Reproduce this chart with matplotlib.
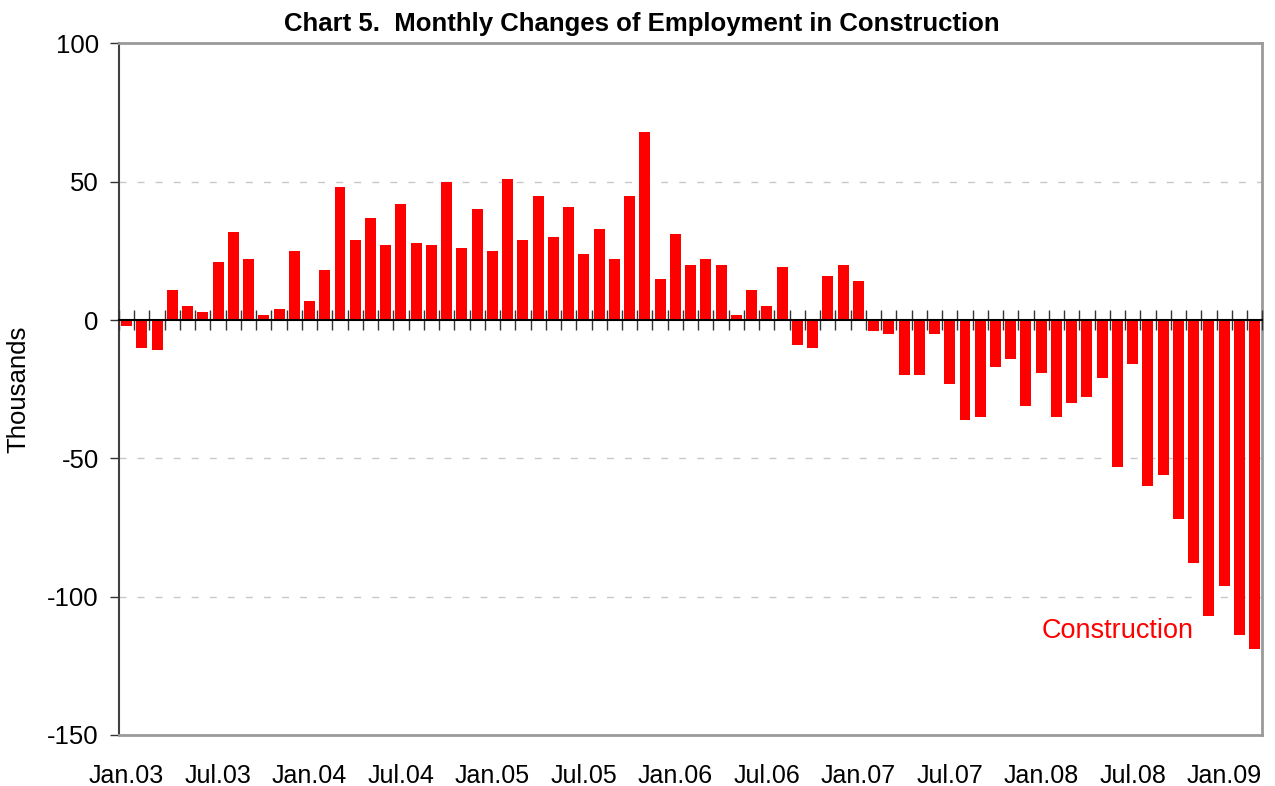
import matplotlib
matplotlib.use("Agg")
import matplotlib.pyplot as plt
import numpy as np

plt.rcParams['font.family'] = ['Liberation Sans', 'DejaVu Sans']

# monthly change in construction employment, thousands, Jan 2003 - Mar 2009
changes = [
    -2, -10, -11, 11, 5, 3, 21, 32, 22, 2, 4, 25,          # 2003
    7, 18, 48, 29, 37, 27, 42, 28, 27, 50, 26, 40,         # 2004
    25, 51, 29, 45, 30, 41, 24, 33, 22, 45, 68, 15,        # 2005
    31, 20, 22, 20, 2, 11, 5, 19, -9, -10, 16, 20,         # 2006
    14, -4, -5, -20, -20, -5, -23, -36, -35, -17, -14, -31,  # 2007
    -19, -35, -30, -28, -21, -53, -16, -60, -56, -72, -88, -107,  # 2008
    -96, -114, -119,                                        # 2009
]
tick_labels = ['Jan.03', 'Jul.03', 'Jan.04', 'Jul.04', 'Jan.05', 'Jul.05',
               'Jan.06', 'Jul.06', 'Jan.07', 'Jul.07', 'Jan.08', 'Jul.08', 'Jan.09']
series_name = 'Construction'

n = len(changes)
x = np.arange(n)

fig = plt.figure(figsize=(12.75, 7.86), dpi=100)
ax = fig.add_axes([0.0933, 0.065, 0.8967, 0.8797])

ax.bar(x, changes, width=0.72, color='#ff0000', zorder=2)

ax.set_xlim(-0.5, n - 0.5)
ax.set_ylim(-150, 100)
ax.set_yticks([-150, -100, -50, 0, 50, 100])
ax.set_yticklabels(['-150', '-100', '-50', '0', '50', '100'])
ax.set_xticks(x[::6])
ax.set_xticklabels(tick_labels)
ax.tick_params(axis='x', length=0, pad=21, labelsize=18)
ax.tick_params(axis='y', direction='out', length=6.5, width=1, color='#333333',
               pad=8, labelsize=18.5)

# dashed gridlines
for v in [-100, -50, 50]:
    ax.axhline(v, color='#c8c8c8', linestyle=(0, (5, 8)), linewidth=1, zorder=1)

# frame
for side in ['top', 'right', 'bottom']:
    ax.spines[side].set_color('#9a9a9a')
    ax.spines[side].set_linewidth(2)
ax.spines['left'].set_color('#404040')
ax.spines['left'].set_linewidth(1.5)

# zero axis with month tick marks
zero_pos = (0 - (-150)) / 250.0
sec = ax.secondary_xaxis(zero_pos)
sec.set_xticks(np.arange(-0.5, n, 1.0))
sec.tick_params(direction='inout', length=15, width=1, color='#333333',
                labeltop=False, labelbottom=False)
for s in sec.spines.values():
    s.set_color('black')
    s.set_linewidth(1.5)
sec.set_zorder(5)

ax.set_ylabel('Thousands', fontsize=18.5, labelpad=12)
ax.set_title('Chart 5.  Monthly Changes of Employment in Construction',
             fontsize=18.5, fontweight='bold', pad=9, x=0.457)

ax.text(65, -112.5, series_name, color='#ff0000', fontsize=19.5,
        ha='center', va='center')

fig.savefig('out.png', dpi=100)
